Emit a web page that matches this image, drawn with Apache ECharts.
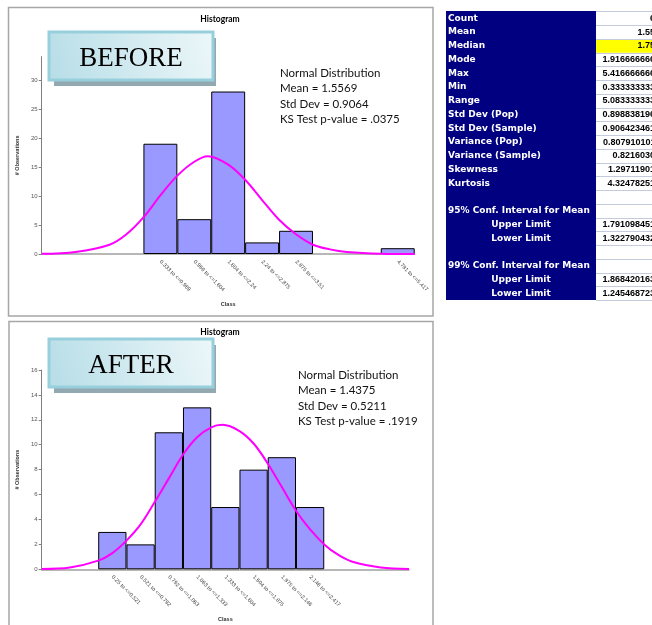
<!DOCTYPE html>
<html>
<head>
<meta charset="utf-8">
<script src="https://cdn.jsdelivr.net/npm/echarts@6/dist/echarts.min.js"></script>
<style>
  html, body { margin: 0; padding: 0; background: #fff; }
  #chart { width: 652px; height: 625px; }
</style>
</head>
<body>
<div id="chart"></div>
<script>
// --- BEFORE histogram ---
const beforeClasses = ['', '', '', '0.333 to <=0.969', '0.969 to <=1.604', '1.604 to <=2.24',
  '2.24 to <=2.875', '2.875 to <=3.51', '', '', '4.781 to <=5.417'];
const beforeCounts = [null, null, null, 19, 6, 28, 2, 4, null, null, 1];
// normal curve, x in class-slot units
const beforeCurveX = [0, 1, 2, 2.5, 3, 3.5, 4, 4.5, 4.9, 5.5, 6, 6.5, 7, 7.5, 8, 8.5, 9, 10, 11];
const beforeCurveY = [0.03, 0.35, 1.6, 3.4, 6.3, 10.1, 13.5, 15.9, 16.85, 15.4, 12.8, 9.3, 5.9, 3.4, 1.6, 0.8, 0.35, 0.05, 0];
const beforeNote = ['Normal Distribution', 'Mean = 1.5569', 'Std Dev = 0.9064', 'KS Test p-value = .0375'];

// --- AFTER histogram ---
const afterClasses = ['', '', '0.25 to <=0.521', '0.521 to <=0.792', '0.792 to <=1.063', '1.063 to <=1.333',
  '1.333 to <=1.604', '1.604 to <=1.875', '1.875 to <=2.146', '2.146 to <=2.417', '', '', ''];
const afterCounts = [null, null, 3, 2, 11, 13, 5, 8, 9, 5, null, null, null];
const afterCurveX = [0, 1, 2, 2.5, 3, 3.5, 4, 4.5, 5, 5.5, 6, 6.4, 7, 7.5, 8, 8.5, 9, 9.5, 10, 10.5, 11, 12, 13];
const afterCurveY = [0.03, 0.15, 0.7, 1.3, 2.3, 3.6, 5.4, 7.3, 9.2, 10.6, 11.4, 11.6, 11.1, 10.1, 8.5, 6.6, 4.7, 3.2, 2.0, 1.15, 0.6, 0.15, 0.03];
const afterNote = ['Normal Distribution', 'Mean = 1.4375', 'Std Dev = 0.5211', 'KS Test p-value = .1919'];

// --- descriptive statistics table ---
const statLabels = ['Count', 'Mean', 'Median', 'Mode', 'Max', 'Min', 'Range', 'Std Dev (Pop)', 'Std Dev (Sample)',
  'Variance (Pop)', 'Variance (Sample)', 'Skewness', 'Kurtosis', '', '95% Conf. Interval for Mean', 'Upper Limit',
  'Lower Limit', '', '99% Conf. Interval for Mean', 'Upper Limit', 'Lower Limit'];
const statValues = ['60', '1.557', '1.750', '1.9166666667', '5.4166666667', '0.3333333333', '5.0833333333',
  '0.8988381967', '0.9064234612', '0.8079101011', '0.82160303', '1.297119012', '4.324782519', '', '',
  '1.7910984512', '1.3227904321', '', '', '1.8684201634', '1.2454687234'];

const AXIS_FONT = 'Liberation Sans';
const NOTE_FONT = 'Lato';

function axisPair(gridIndex, classes, slots) {
  return [
    {
      type: 'category',
      gridIndex,
      data: classes,
      name: 'Class',
      nameLocation: 'middle',
      nameGap: 47,
      nameTextStyle: { fontFamily: AXIS_FONT, fontSize: 5.5, fontWeight: 'bold', color: '#333' },
      axisLine: { lineStyle: { color: '#a0a0a0', width: 1.5 } },
      axisTick: { length: 3, lineStyle: { color: '#808080' } },
      axisLabel: { interval: 0, rotate: -45, margin: 7, fontFamily: AXIS_FONT, fontSize: 5.5, color: '#444' },
    },
    { type: 'value', gridIndex, min: 0, max: slots, show: false },
  ];
}

function yAxis(gridIndex, max, interval) {
  return {
    type: 'value',
    gridIndex,
    min: 0,
    max,
    interval,
    name: '# Observations',
    nameLocation: 'middle',
    nameGap: 19,
    nameRotate: 90,
    nameTextStyle: { fontFamily: AXIS_FONT, fontSize: 5.5, fontWeight: 'bold', color: '#333' },
    axisLine: { show: true, lineStyle: { color: '#808080' } },
    axisTick: { show: true, length: 3, lineStyle: { color: '#808080' } },
    axisLabel: { showMaxLabel: max % interval === 0, margin: 4, fontFamily: AXIS_FONT, fontSize: 6, color: '#555' },
    splitLine: { show: false },
  };
}

function histSeries(xi, yi, counts, cx, cy) {
  return [
    {
      type: 'bar', xAxisIndex: xi, yAxisIndex: yi, data: counts, barCategoryGap: '0%',
      itemStyle: { color: '#9999ff', borderColor: '#000', borderWidth: 1 },
    },
    {
      type: 'line', xAxisIndex: xi + 1, yAxisIndex: yi, data: cx.map((x, i) => [x, cy[i]]),
      smooth: 0.35, symbol: 'none', lineStyle: { color: '#ff00ff', width: 2 },
    },
  ];
}

function txt(x, y, text, o) {
  return {
    type: 'text', x, y, silent: true, z: 10,
    style: Object.assign({
      text, fill: '#000', fontFamily: AXIS_FONT, fontSize: 9,
      textAlign: 'left', align: 'left', textVerticalAlign: 'middle', verticalAlign: 'middle',
    }, o || {}),
  };
}

function labelBox(y, word) {
  return [
    { type: 'rect', shape: { x: 54, y: y + 6, width: 162, height: 48 }, style: { fill: '#93a9b1' }, z: 5 },
    {
      type: 'rect', shape: { x: 49, y, width: 164, height: 48 }, z: 6,
      style: {
        stroke: '#97d0dc', lineWidth: 3,
        fill: { type: 'linear', x: 0, y: 1, x2: 1, y2: 0, colorStops: [
          { offset: 0, color: '#b6dde7' }, { offset: 1, color: '#edf7f9' }] },
      },
    },
    txt(131, y + 27, word, { fontFamily: 'Liberation Serif', fontSize: 27, textAlign: 'center', align: 'center' }),
  ];
}

function noteLines(x, y0, lines) {
  return lines.map((t, i) => txt(x, y0 + i * 15.5, t, { fontFamily: NOTE_FONT, fontSize: 11.5, fill: '#111' }));
}

const graphics = [
  { type: 'rect', shape: { x: 8.5, y: 7.5, width: 424.5, height: 308.5 }, style: { fill: 'none', stroke: '#a6a6a6', lineWidth: 1.5 }, z: 0 },
  { type: 'rect', shape: { x: 9, y: 321.5, width: 424, height: 310 }, style: { fill: 'none', stroke: '#a6a6a6', lineWidth: 1.5 }, z: 0 },
  txt(220, 19, 'Histogram', { fontFamily: NOTE_FONT, fontSize: 8.5, fontWeight: 'bold', textAlign: 'center', align: 'center' }),
  txt(220, 332, 'Histogram', { fontFamily: NOTE_FONT, fontSize: 8.5, fontWeight: 'bold', textAlign: 'center', align: 'center' }),
  ...labelBox(32, 'BEFORE'),
  ...labelBox(339, 'AFTER'),
  ...noteLines(280, 73, beforeNote),
  ...noteLines(298, 375, afterNote),
];

// table
const ROW0 = 11.4, ROWH = 13.75;
graphics.push({ type: 'rect', shape: { x: 446, y: 11, width: 150, height: 289 }, style: { fill: '#000080' }, z: 1 });
graphics.push({ type: 'rect', shape: { x: 596, y: ROW0 + 2 * ROWH, width: 60, height: ROWH }, style: { fill: '#ffff00' }, z: 1 });
for (let i = 0; i <= statLabels.length; i++) {
  const y = Math.round(ROW0 + i * ROWH) + 0.5;
  graphics.push({ type: 'line', shape: { x1: 596, y1: y, x2: 656, y2: y }, style: { stroke: '#c4cbdc', lineWidth: 1 }, z: 2 });
}
statLabels.forEach((lab, i) => {
  const yc = ROW0 + (i + 0.5) * ROWH;
  if (lab) {
    const centred = lab === 'Upper Limit' || lab === 'Lower Limit';
    graphics.push(txt(centred ? 521 : 448, yc, lab, {
      fontFamily: 'DejaVu Sans', fontSize: 9, fontWeight: 'bold', fill: '#fff',
      textAlign: centred ? 'center' : 'left', align: centred ? 'center' : 'left',
    }));
  }
  if (statValues[i]) {
    graphics.push(txt(660, yc, statValues[i], {
      fontSize: 9, fontWeight: 'bold', fill: '#000', textAlign: 'right', align: 'right',
    }));
  }
});

const chart = echarts.init(document.getElementById('chart'), null, { renderer: 'canvas' });
chart.setOption({
  animation: false,
  grid: [
    { left: 41.7, top: 56.7, width: 373, height: 197.3 },
    { left: 41.7, top: 370, width: 367.3, height: 199.3 },
  ],
  xAxis: [...axisPair(0, beforeClasses, 11), ...axisPair(1, afterClasses, 13)],
  yAxis: [yAxis(0, 34, 5), yAxis(1, 16, 2)],
  series: [
    ...histSeries(0, 0, beforeCounts, beforeCurveX, beforeCurveY),
    ...histSeries(2, 1, afterCounts, afterCurveX, afterCurveY),
  ],
  graphic: graphics,
});
</script>
</body>
</html>
